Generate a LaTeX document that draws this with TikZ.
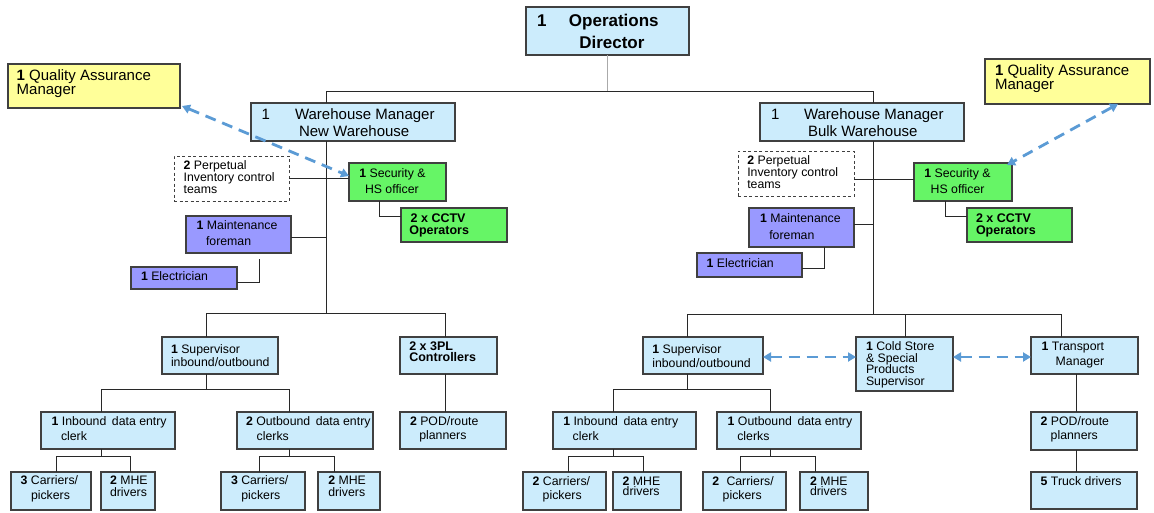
\documentclass[tikz,border=0pt]{standalone}
\usepackage{fontspec}
\setmainfont{Liberation Sans}
\usetikzlibrary{arrows.meta}

\definecolor{boxblue}{RGB}{204,236,252}
\definecolor{boxyellow}{RGB}{255,255,153}
\definecolor{boxgreen}{RGB}{102,245,102}
\definecolor{boxpurple}{RGB}{153,153,255}
\definecolor{boxline}{RGB}{64,64,64}
\definecolor{connline}{RGB}{40,40,40}
\definecolor{stemgray}{RGB}{170,170,170}
\definecolor{linkblue}{RGB}{91,155,213}

\newcommand\fsmall{\fontsize{12.3pt}{14pt}\selectfont}
\newcommand\fbig{\fontsize{15pt}{17pt}\selectfont}
\newcommand\fhead{\fontsize{17pt}{20pt}\selectfont\bfseries}
\newcommand\fstrong{\fontsize{12.5pt}{14pt}\selectfont\bfseries}

% box given by its top-left and bottom-right corners
\newcommand\orgbox[6]{%
  \node[box,#2,minimum width={#5pt-#3pt},minimum height={#6pt-#4pt}] (#1) at (#3,#4) {};}
% one line of text, placed by its baseline start
\newcommand\orgtext[5]{\node[txt,#2] (#1) at (#3,#4) {#5};}
% parent -> bus -> two children
\newcommand\fork[7]{%
  \draw[conn] (#1.south -| #2,0) -- (#2,#3);
  \draw[conn] (#4.north -| #5,0) -- (#5,#3) -- (#7,#3) -- (#6.north -| #7,0);}

\tikzset{
  box/.style={draw=boxline, line width=1.2pt, inner sep=0pt, outer sep=0pt, anchor=north west},
  pibox/.style={fill=white, line width=1pt, dash pattern=on 3pt off 2.5pt},
  txt/.style={anchor=base west, inner sep=0pt, outer sep=0pt, font=\fsmall, text=black},
  conn/.style={draw=connline, line width=1.4pt},
  stem/.style={draw=stemgray, line width=1.4pt},
  link/.style={draw=linkblue, line width=2.8pt, dash pattern=on 11pt off 7pt,
    {Triangle[length=8pt,width=9pt]}-{Triangle[length=8pt,width=9pt]}}
}

\begin{document}
\begin{tikzpicture}[x=1pt,y=-1pt]
\useasboundingbox (0,0) rectangle (1154,512);
\fill[white] (0,0) rectangle (1154,512);

% ---------- boxes ----------
\orgbox{od}{fill=boxblue}{526}{7}{689}{55}
\orgbox{qaL}{fill=boxyellow}{8}{64}{180}{108}
\orgbox{qaR}{fill=boxyellow}{985}{59}{1150}{104}
\orgbox{wmL}{fill=boxblue}{251}{103}{455}{141}
\orgbox{wmR}{fill=boxblue}{760}{103}{964}{141}
\orgbox{piL}{pibox}{174}{156}{289}{201}
\orgbox{piR}{pibox}{738}{151}{854}{196}
\orgbox{secL}{fill=boxgreen}{349}{163}{446}{201}
\orgbox{secR}{fill=boxgreen}{914}{163}{1012}{201}
\orgbox{ccL}{fill=boxgreen}{401}{208}{507}{242}
\orgbox{ccR}{fill=boxgreen}{967}{208}{1072}{242}
\orgbox{mtL}{fill=boxpurple}{186}{216}{291}{253}
\orgbox{mtR}{fill=boxpurple}{749}{208}{854}{247}
\orgbox{elL}{fill=boxpurple}{131}{267}{237}{289}
\orgbox{elR}{fill=boxpurple}{697}{253}{802}{277}

\orgbox{supL}{fill=boxblue}{162}{337}{278}{374}
\orgbox{tplL}{fill=boxblue}{400}{337}{497}{374}
\orgbox{podL}{fill=boxblue}{400}{412}{506}{449}
\orgbox{inL}{fill=boxblue}{41}{412}{175}{449}
\orgbox{outL}{fill=boxblue}{237}{412}{373}{449}
\orgbox{caL1}{fill=boxblue}{11}{472}{91}{510}
\orgbox{mhL1}{fill=boxblue}{101}{472}{155}{510}
\orgbox{caL2}{fill=boxblue}{221}{472}{305}{510}
\orgbox{mhL2}{fill=boxblue}{318}{472}{380}{510}

\orgbox{supR}{fill=boxblue}{643}{337}{763}{374}
\orgbox{csR}{fill=boxblue}{856}{337}{953}{391}
\orgbox{trR}{fill=boxblue}{1031}{337}{1138}{374}
\orgbox{inR}{fill=boxblue}{553}{412}{696}{449}
\orgbox{outR}{fill=boxblue}{717}{412}{861}{449}
\orgbox{podR}{fill=boxblue}{1031}{412}{1137}{450}
\orgbox{caR1}{fill=boxblue}{523}{472}{606}{510}
\orgbox{mhR1}{fill=boxblue}{613}{472}{681}{510}
\orgbox{caR2}{fill=boxblue}{703}{472}{786}{510}
\orgbox{mhR2}{fill=boxblue}{800}{472}{868}{510}
\orgbox{trkR}{fill=boxblue}{1031}{472}{1137}{509}

% ---------- texts ----------
\orgtext{od-a}{font=\fhead}{537}{26}{1\hspace{22.5pt}Operations}
\orgtext{od-b}{font=\fhead}{579.3}{48}{Director}

\orgtext{qaL-a}{font=\fbig}{16.7}{80}{\textbf{1} Quality Assurance}
\orgtext{qaL-b}{font=\fbig}{16.7}{94.5}{Manager}
\orgtext{qaR-a}{font=\fbig}{995}{75}{\textbf{1} Quality Assurance}
\orgtext{qaR-b}{font=\fbig}{995}{89.5}{Manager}

\orgtext{wmL-a}{font=\fbig}{261.7}{119.3}{1\hspace{25pt}Warehouse Manager}
\orgtext{wmL-b}{font=\fbig}{299}{136.7}{New Warehouse}
\orgtext{wmR-a}{font=\fbig}{771}{119.3}{1\hspace{24.7pt}Warehouse Manager}
\orgtext{wmR-b}{font=\fbig}{808}{136.7}{Bulk Warehouse}

\orgtext{piL-a}{}{183.7}{169.3}{\textbf{2} Perpetual}
\orgtext{piL-b}{}{183.7}{181.5}{Inventory control}
\orgtext{piL-c}{}{183.7}{193.3}{teams}
\orgtext{piR-a}{}{747.3}{164.3}{\textbf{2} Perpetual}
\orgtext{piR-b}{}{747.3}{176.5}{Inventory control}
\orgtext{piR-c}{}{747.3}{188.3}{teams}

\orgtext{secL-a}{}{359.3}{177.3}{\textbf{1} Security \&}
\orgtext{secL-b}{}{365}{193.3}{HS officer}
\orgtext{secR-a}{}{924.3}{177.7}{\textbf{1} Security \&}
\orgtext{secR-b}{}{930.7}{193.3}{HS officer}

\orgtext{ccL-a}{font=\fstrong}{410.7}{222.3}{2 x CCTV}
\orgtext{ccL-b}{font=\fstrong}{409.3}{234}{Operators}
\orgtext{ccR-a}{font=\fstrong}{976}{222.3}{2 x CCTV}
\orgtext{ccR-b}{font=\fstrong}{976}{234}{Operators}

\orgtext{mtL-a}{}{196.7}{229}{\textbf{1} Maintenance}
\orgtext{mtL-b}{}{206}{245.7}{foreman}
\orgtext{mtR-a}{}{760}{222.7}{\textbf{1} Maintenance}
\orgtext{mtR-b}{}{769.3}{239.3}{foreman}

\orgtext{elL-a}{}{141}{280}{\textbf{1} Electrician}
\orgtext{elR-a}{}{706.7}{267.3}{\textbf{1} Electrician}

\orgtext{supL-a}{}{171}{353.3}{\textbf{1} Supervisor}
\orgtext{supL-b}{}{171}{366.7}{inbound/outbound}
\orgtext{tplL-a}{font=\fstrong}{409.3}{350}{2 x 3PL}
\orgtext{tplL-b}{font=\fstrong}{409.3}{361.7}{Controllers}
\orgtext{podL-a}{}{410}{425}{\textbf{2} POD/route}
\orgtext{podL-b}{}{419.3}{439}{planners}
\orgtext{inL-a}{}{51.7}{425}{\textbf{1} Inbound\hspace{0.45em}data entry}
\orgtext{inL-b}{}{61}{440.7}{clerk}
\orgtext{outL-a}{}{246}{425}{\textbf{2} Outbound\hspace{0.45em}data entry}
\orgtext{outL-b}{}{256.7}{440.7}{clerks}
\orgtext{caL1-a}{}{20.7}{484.3}{\textbf{3} Carriers/}
\orgtext{caL1-b}{}{31}{499.3}{pickers}
\orgtext{mhL1-a}{}{110}{484.3}{\textbf{2} MHE}
\orgtext{mhL1-b}{}{110}{496}{drivers}
\orgtext{caL2-a}{}{231}{484.3}{\textbf{3} Carriers/}
\orgtext{caL2-b}{}{241.3}{499.3}{pickers}
\orgtext{mhL2-a}{}{328.3}{484.3}{\textbf{2} MHE}
\orgtext{mhL2-b}{}{328.3}{496}{drivers}

\orgtext{supR-a}{}{652.3}{353.3}{\textbf{1} Supervisor}
\orgtext{supR-b}{}{652.3}{367.3}{inbound/outbound}
\orgtext{csR-a}{}{866}{350}{\textbf{1} Cold Store}
\orgtext{csR-b}{}{866}{362}{\& Special}
\orgtext{csR-c}{}{866}{373.5}{Products}
\orgtext{csR-d}{}{866}{385}{Supervisor}
\orgtext{trR-a}{}{1041.7}{350}{\textbf{1} Transport}
\orgtext{trR-b}{}{1055.7}{365}{Manager}
\orgtext{inR-a}{}{563.3}{425}{\textbf{1} Inbound\hspace{0.45em}data entry}
\orgtext{inR-b}{}{572.7}{440}{clerk}
\orgtext{outR-a}{}{727.7}{425}{\textbf{1} Outbound\hspace{0.45em}data entry}
\orgtext{outR-b}{}{737.3}{440}{clerks}
\orgtext{podR-a}{}{1040.7}{425}{\textbf{2} POD/route}
\orgtext{podR-b}{}{1050.7}{439.3}{planners}
\orgtext{caR1-a}{}{532.7}{485}{\textbf{2} Carriers/}
\orgtext{caR1-b}{}{542.7}{499.3}{pickers}
\orgtext{mhR1-a}{}{622.7}{485}{\textbf{2} MHE}
\orgtext{mhR1-b}{}{622.7}{495.5}{drivers}
\orgtext{caR2-a}{}{712.3}{485}{\textbf{2}\hspace{0.6em}Carriers/}
\orgtext{caR2-b}{}{722.7}{499.3}{pickers}
\orgtext{mhR2-a}{}{810}{485}{\textbf{2} MHE}
\orgtext{mhR2-b}{}{810}{495.5}{drivers}
\orgtext{trkR-a}{}{1040.7}{485}{\textbf{5} Truck drivers}

% ---------- reporting lines ----------
\coordinate (busTop) at (0,91.5);
\coordinate (tkL) at (326.5,0);
\coordinate (tkR) at (873.5,0);

\draw[stem] (od.south) -- (od.south |- busTop);
\draw[conn] (wmL.north -| tkL) -- (tkL |- busTop) -- (tkR |- busTop) -- (wmR.north -| tkR);

% new warehouse branch
\draw[conn] (wmL.south -| tkL) -- (326.5,313.5);
\draw[conn] (piL.east) -- (piL.east -| secL.west);
\draw[conn] ([xshift=30.5pt]secL.south west) |- (401,216.5);
\draw[conn] ([yshift=-3pt]mtL.east) -- (326.5,237.5);
\draw[conn] (237,282.5) -| ([xshift=73.5pt,yshift=-6pt]mtL.south west);
\draw[conn] (supL.north -| 206.5,0) -- (206.5,313.5) -- (445.5,313.5) -- (tplL.north -| 445.5,0);
\draw[conn] (tplL.south -| 445.5,0) -- (podL.north -| 445.5,0);
\fork{supL}{206.5}{389.5}{inL}{101.5}{outL}{289.5}
\fork{inL}{101.5}{456.5}{caL1}{56.5}{mhL1}{130.5}
\fork{outL}{289.5}{456.5}{caL2}{259.5}{mhL2}{334.5}

% bulk warehouse branch
\draw[conn] (wmR.south -| tkR) -- (873.5,314.5);
\draw[conn] (854,179.5) -- (secR.west |- 0,179.5);
\draw[conn] ([xshift=31.5pt]secR.south west) |- (967,216.5);
\draw[conn] (854,224.5) -- (873.5,224.5);
\draw[conn] (802,268.5) -| ([xshift=75.5pt]mtR.south west);
\draw[conn] (supR.north -| 687.5,0) -- (687.5,314.5) -- (1061.5,314.5) -- (trR.north -| 1061.5,0);
\draw[conn] (csR.north -| 905.5,0) -- (905.5,314.5);
\draw[conn] (trR.south -| 1076.5,0) -- (podR.north -| 1076.5,0);
\draw[conn] (podR.south -| 1076.5,0) -- (trkR.north -| 1076.5,0);
\fork{supR}{687.5}{389.5}{inR}{613.5}{outR}{770.5}
\fork{inR}{613.5}{456.5}{caR1}{568.5}{mhR1}{643.5}
\fork{outR}{770.5}{456.5}{caR2}{740.5}{mhR2}{815.5}

% ---------- liaison links ----------
\draw[link] ([xshift=2pt,yshift=2pt]qaL.south east) -- ([yshift=6pt]secL.west);
\draw[link] ([xshift=-32pt]qaR.south east) -- ([xshift=-5pt,yshift=-2pt]secR.north east);
\draw[link] ([yshift=-1.5pt]supR.east) -- (csR.west |- 0,357);
\draw[link] (csR.east |- 0,357) -- ([yshift=-1.5pt]trR.west);
\end{tikzpicture}
\end{document}
